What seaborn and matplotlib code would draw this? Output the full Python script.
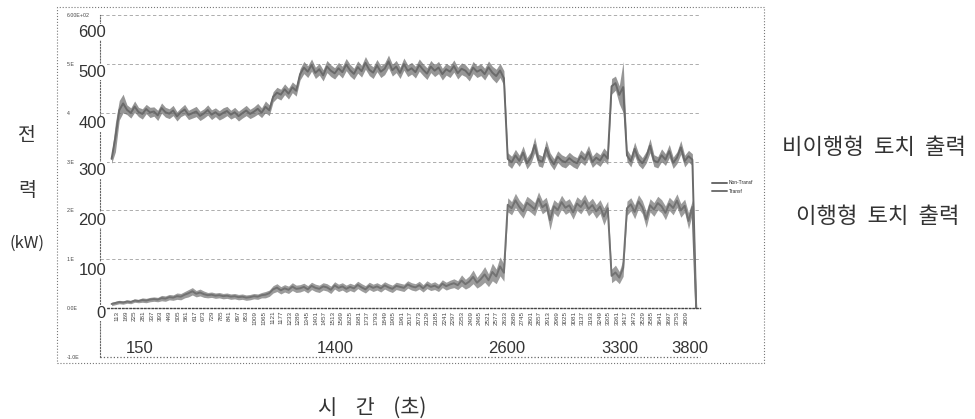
import numpy as np
import pandas as pd
import matplotlib.pyplot as plt
import seaborn as sns
from matplotlib.patches import Rectangle
from matplotlib.transforms import blended_transform_factory

# sample index (category axis of the logger export), every 25th sample
sample_idx = list(range(75, 3900, 25))

# non-transferred torch power (kW): top and bottom edge of the grey band in the scan
non_transf_hi = [
    315, 380, 425, 438,
    416, 410, 424, 411, 408, 417, 411, 412, 405, 420,
    411, 408, 415, 402, 410, 417, 405, 409, 413, 403,
    408, 416, 406, 410, 404, 410, 413, 405, 411, 403,
    409, 415, 407, 412, 419, 410, 424, 416,
    443, 452, 448, 459, 450, 463, 456,
    490, 505, 496, 510, 493, 501, 488, 507, 498, 492,
    503, 495, 511, 499, 491, 506, 497, 515, 500, 494,
    509, 496, 502, 518, 499, 507, 493, 512, 498, 503,
    495, 510, 500, 492, 507, 498, 505, 491, 501, 496,
    508, 493, 502, 498, 489, 505, 496, 500, 491, 506,
    495, 489, 501, 486,
    318, 311, 325, 313, 332, 308, 320, 350, 315, 311,
    344, 318, 306, 322, 314, 310, 319, 312, 308, 324,
    316, 333, 311, 320, 314, 328, 318,
    470, 475, 455, 505,
    325, 312, 340, 317, 308, 321, 347, 314, 310, 326,
    316, 335, 309, 320, 343, 313, 323, 316,
    0,
]
non_transf_lo = [
    296, 320, 385, 400,
    396, 389, 401, 392, 387, 398, 390, 393, 384, 399,
    391, 388, 394, 383, 392, 396, 386, 389, 392, 384,
    389, 395, 386, 392, 385, 389, 394, 387, 391, 383,
    389, 394, 388, 392, 397, 390, 400, 394,
    422, 430, 426, 437, 428, 441, 434,
    467, 480, 472, 485, 470, 477, 465, 482, 474, 469,
    479, 471, 486, 475, 468, 481, 473, 489, 476, 470,
    484, 472, 478, 492, 475, 482, 470, 487, 474, 479,
    471, 485, 476, 468, 482, 474, 480, 467, 477, 472,
    483, 469, 478, 474, 465, 480, 472, 476, 467, 480,
    469, 461, 472, 455,
    293, 286, 300, 290, 305, 285, 296, 318, 291, 288,
    312, 294, 283, 298, 290, 287, 295, 289, 285, 299,
    292, 306, 288, 296, 290, 302, 294,
    438, 446, 418, 400,
    300, 289, 312, 293, 285, 297, 318, 290, 287, 300,
    292, 308, 286, 296, 315, 289, 299, 292,
    0,
]

# transferred torch power (kW)
transf_hi = [
    12, 14, 16, 15,
    17, 16, 19, 18, 21, 20, 22, 23, 22, 26,
    25, 28, 27, 31, 30, 34, 38, 42, 36, 39,
    35, 32, 33, 31, 32, 30, 31, 29, 30, 28,
    29, 27, 28, 30, 29, 32, 34, 37,
    46, 50, 44, 48, 45, 52, 47,
    48, 51, 46, 53, 49, 47, 52, 50, 45, 54,
    49, 52, 47, 51, 48, 55, 50, 46, 53, 49,
    52, 48, 54, 50, 47, 53, 51, 49, 56, 52,
    50, 55, 48, 56, 51, 54, 49, 58, 53, 57,
    60, 56, 68, 59, 66, 78, 63, 73, 85, 70,
    92, 80, 105, 90,
    226, 218, 235, 221, 212, 229, 223, 216, 238, 220,
    227, 200, 222, 215, 231, 219, 224, 210, 228, 221,
    233, 217, 225, 212, 222, 205, 219,
    80, 88, 75, 100,
    219, 226, 211, 232, 220, 198, 224, 216, 229, 222,
    209, 227, 219, 234, 214, 223, 195, 221,
    0,
]
transf_lo = [
    5, 7, 9, 8,
    10, 9, 12, 11, 12, 11, 13, 14, 13, 15,
    14, 17, 16, 18, 17, 21, 23, 27, 23, 25,
    22, 21, 22, 20, 21, 19, 20, 18, 19, 17,
    18, 16, 17, 19, 18, 21, 21, 24,
    31, 34, 29, 33, 30, 36, 32,
    33, 36, 31, 38, 34, 32, 37, 35, 30, 39,
    34, 37, 32, 36, 33, 40, 35, 31, 38, 34,
    37, 33, 39, 35, 32, 38, 36, 34, 41, 37,
    35, 39, 33, 40, 36, 38, 34, 42, 37, 40,
    42, 38, 45, 39, 43, 50, 41, 46, 53, 44,
    56, 50, 66, 55,
    197, 191, 206, 194, 184, 202, 196, 189, 210, 193,
    199, 160, 195, 187, 203, 192, 197, 182, 200, 193,
    205, 189, 197, 184, 194, 170, 190,
    52, 58, 50, 65,
    190, 199, 183, 204, 193, 165, 197, 188, 201, 195,
    181, 200, 191, 206, 186, 196, 162, 193,
    0,
]

series_names = ['Non-Transf', 'Transf']

# small rotated category labels under the zero line
x_tick_vals = list(range(113, 3810, 56))
x_tick_labels = [str(v) for v in x_tick_vals]

# tiny excel axis labels (partly hidden in the scan)
y_tick_vals = [600, 500, 400, 300, 200, 100, 0, -100]
y_tick_labels = ['6.00E+02', '5.E', '4', '3.E', '2.E', '1.E', '0.0E', '-1.0E']

# big overlaid labels
big_y_labels = ['600', '500', '400', '300', '200', '100', '0']
big_y_pos = [565, 483, 377, 282, 180, 78, -10]
time_labels = ['150', '1400', '2600', '3300', '3800']
time_pos = [260, 1528, 2645, 3380, 3835]

n = len(sample_idx)
df = pd.DataFrame({
    'idx': sample_idx * 4,
    'kW': non_transf_hi + non_transf_lo + transf_hi + transf_lo,
    'series': [series_names[0]] * (2 * n) + [series_names[1]] * (2 * n),
})

sns.set_style('white')
plt.rcParams['font.family'] = ['Liberation Sans', 'DejaVu Sans']
kr = 'Noto Sans CJK KR'

fig = plt.figure(figsize=(9.75, 4.19), dpi=100)
ax = fig.add_axes([0.1026, 0.148, 0.6154, 0.8162])

# mean line plus min-max band, like the thick noisy trace of the scan
sns.lineplot(data=df, x='idx', y='kW', hue='series', errorbar=('pi', 100),
             palette={'Non-Transf': '#6a6a6a', 'Transf': '#727272'},
             linewidth=1.4, err_kws={'alpha': 0.7, 'linewidth': 0}, ax=ax)

ax.set_xlim(0, 3900)
ax.set_ylim(-100, 600)
ax.set_xlabel('')
ax.set_ylabel('')

# spine position first: moving it rebuilds the ticks
ax.spines['top'].set_visible(False)
ax.spines['right'].set_visible(False)
ax.spines['bottom'].set_position(('data', 0))
ax.spines['bottom'].set_linestyle(':')
ax.spines['bottom'].set_color('#444')
ax.spines['bottom'].set_linewidth(1.0)
ax.spines['left'].set_linestyle(':')
ax.spines['left'].set_color('#666')
ax.spines['left'].set_linewidth(0.8)

ax.set_xticks(x_tick_vals)
ax.set_xticklabels(x_tick_labels, rotation=90, fontsize=4.5, color='#444')
ax.set_yticks(y_tick_vals)
ax.set_yticklabels(y_tick_labels, fontsize=3.8, color='#444')
for lab in ax.get_yticklabels():
    lab.set_ha('left')
ax.tick_params(axis='y', length=0, pad=24)
ax.tick_params(axis='x', length=0, pad=2)

ax.grid(axis='y', linestyle=(0, (4, 3)), color='#a0a0a0', linewidth=0.6)
ax.grid(axis='x', visible=False)
ax.axhline(-100, linestyle=':', color='#666', linewidth=0.9, clip_on=False)

# big numbers pasted over the y axis
tr = blended_transform_factory(ax.transAxes, ax.transData)
for lab, y in zip(big_y_labels, big_y_pos):
    ax.text(0.01, y, lab, transform=tr, ha='right', va='center', fontsize=12,
            color='#333', bbox=dict(facecolor='white', edgecolor='none', pad=0.5))

# time marks sitting on the bottom dotted line
for lab, x in zip(time_labels, time_pos):
    ax.text(x, -97, lab, ha='center', va='bottom', fontsize=12, color='#333',
            bbox=dict(facecolor='white', edgecolor='none', pad=0.3))

handles, labels = ax.get_legend_handles_labels()
ax.legend(handles, labels, loc='upper left', bbox_to_anchor=(708 / 975, 1 - 176 / 419),
          bbox_transform=fig.transFigure, frameon=False, fontsize=3.5,
          handlelength=3, labelspacing=0.7, handletextpad=0.3)

# dotted frame of the pasted chart
fig.patches.append(Rectangle((0.0585, 0.1337), 0.7251, 0.8496, transform=fig.transFigure,
                             fill=False, linestyle=':', linewidth=0.8, edgecolor='#777'))

fig.text(874 / 975, 1 - 148 / 419, '비이행형  토치  출력', ha='center', va='center',
         fontsize=16, family=kr, color='#333')
fig.text(878 / 975, 1 - 216 / 419, '이행형  토치  출력', ha='center', va='center',
         fontsize=16, family=kr, color='#333')
fig.text(27 / 975, 1 - 135 / 419, '전', ha='center', va='center', fontsize=14, family=kr, color='#333')
fig.text(27 / 975, 1 - 190 / 419, '력', ha='center', va='center', fontsize=14, family=kr, color='#333')
fig.text(27 / 975, 1 - 243 / 419, '(kW)', ha='center', va='center', fontsize=12, family=kr, color='#333')
fig.text(372 / 975, 1 - 408 / 419, '시    간    (초)', ha='center', va='center', fontsize=15,
         family=kr, color='#333')

fig.savefig('out.png', dpi=100)
